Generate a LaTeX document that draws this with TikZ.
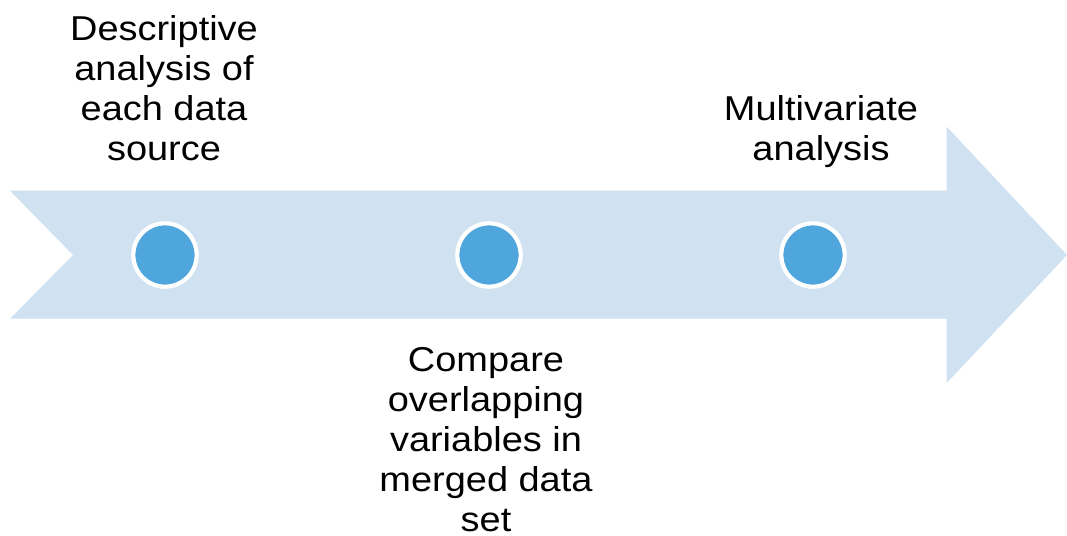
\documentclass[tikz,border=0pt]{standalone}
\usepackage{fontspec}
\setmainfont{Liberation Sans}
\definecolor{arrowfill}{HTML}{D0E1F1}
\definecolor{dotfill}{HTML}{4FA6DC}
\begin{document}
\begin{tikzpicture}[x=1pt,y=1pt,
  dot/.style={circle, fill=dotfill, draw=white, line width=4.2pt, minimum size=63.4pt, inner sep=0pt},
  label/.style={align=center, xscale=1.1, font=\fontsize{34.5}{40}\selectfont, inner sep=0pt}]
\useasboundingbox (0,0) rectangle (1067,535);
\fill[arrowfill] (10,344.3) -- (946.7,344.3) -- (946.7,408.3) -- (1067,280) -- (946.7,152) -- (946.7,216.3) -- (10,216.3) -- (73,280) -- cycle;
\node[dot] (d1) at (165,280) {};
\node[dot] (d2) at (489,280) {};
\node[dot] (d3) at (813,280) {};
\node[label] (t1) at (164,447) {Descriptive\\analysis of\\each data\\source};
\node[label] (t2) at (486,95) {Compare\\overlapping\\variables in\\merged data\\set};
\node[label] (t3) at (821,403.4) {Multivariate\\analysis};
\end{tikzpicture}
\end{document}
